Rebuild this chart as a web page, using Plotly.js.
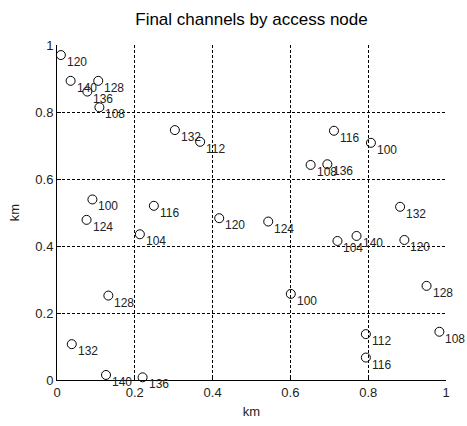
<!DOCTYPE html>
<html>
<head>
<meta charset="utf-8">
<script src="https://cdn.plot.ly/plotly-3.0.1.min.js"></script>
<style>html,body{margin:0;padding:0;background:#fff;}#chart{width:467px;height:426px;}</style>
</head>
<body>
<div id="chart"></div>
<script>
// Access node positions (km) and their final channel numbers
const nodeX = [0.010, 0.035, 0.106, 0.078, 0.109, 0.303, 0.368, 0.091,
               0.712, 0.807, 0.652, 0.695,
               0.076, 0.249, 0.213, 0.417, 0.132, 0.038, 0.126, 0.220,
               0.543, 0.882, 0.721, 0.770, 0.893, 0.950, 0.601, 0.794, 0.983, 0.794];
const nodeY = [0.970, 0.893, 0.893, 0.861, 0.814, 0.746, 0.711, 0.539,
               0.744, 0.708, 0.642, 0.644,
               0.478, 0.520, 0.435, 0.483, 0.252, 0.107, 0.015, 0.008,
               0.473, 0.517, 0.415, 0.430, 0.418, 0.281, 0.257, 0.137, 0.144, 0.067];
const channels = ['120', '140', '128', '136', '108', '132', '112', '100',
                  '116', '100', '108', '136',
                  '124', '116', '104', '120', '128', '132', '140', '136',
                  '124', '132', '104', '140', '120', '128', '100', '112', '108', '116'];
const tickVals = [0, 0.2, 0.4, 0.6, 0.8, 1];
const tickText = ['0', '0.2', '0.4', '0.6', '0.8', '1'];

const FONT = 'Liberation Sans, Arial, Helvetica, sans-serif';

const trace = {
  type: 'scatter',
  mode: 'markers',
  x: nodeX,
  y: nodeY,
  marker: {symbol: 'circle-open', size: 9, color: '#000', line: {width: 1, color: '#000'}},
  cliponaxis: false,
  hoverinfo: 'skip'
};

// channel labels placed just below-right of each node
const labelAnnotations = channels.map((c, i) => ({
  x: nodeX[i],
  y: nodeY[i],
  xref: 'x',
  yref: 'y',
  text: c,
  showarrow: false,
  xanchor: 'left',
  yanchor: 'middle',
  xshift: 5,
  yshift: -7,
  borderpad: 0,
  font: {family: FONT, size: 12, color: '#222'}
}));

const axisCommon = {
  range: [0, 1],
  tickvals: tickVals,
  ticktext: tickText,
  showgrid: true,
  gridcolor: '#000',
  gridwidth: 1,
  griddash: '3px,2px',
  zeroline: false,
  showline: true,
  linecolor: '#000',
  linewidth: 1,
  ticks: 'inside',
  ticklen: 4,
  tickcolor: '#000',
  tickfont: {family: FONT, size: 13, color: '#222'},
  mirror: false,
  fixedrange: true
};

const layout = {
  width: 467,
  height: 426,
  margin: {l: 57, r: 21, t: 45, b: 46},
  paper_bgcolor: '#fff',
  plot_bgcolor: '#fff',
  showlegend: false,
  title: {
    text: 'Final channels by access node',
    font: {family: FONT, size: 17, color: '#000'},
    x: 0.5, xref: 'paper', xanchor: 'center',
    y: 0.955, yref: 'container', yanchor: 'middle'
  },
  xaxis: Object.assign({}, axisCommon, {
    ticklabelstandoff: 0,
    title: {text: 'km', font: {family: FONT, size: 13, color: '#222'}, standoff: 8}
  }),
  yaxis: Object.assign({}, axisCommon, {
    title: {text: 'km', font: {family: FONT, size: 13, color: '#222'}, standoff: 12}
  }),
  annotations: labelAnnotations
};

Plotly.newPlot('chart', [trace], layout, {staticPlot: true, displayModeBar: false});
</script>
</body>
</html>
